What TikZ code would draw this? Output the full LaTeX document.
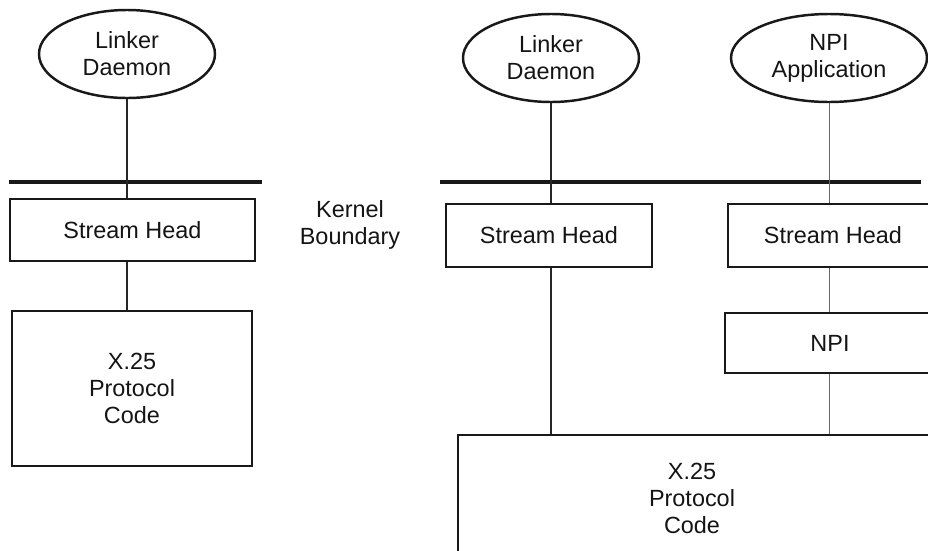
\documentclass[tikz,border=0pt]{standalone}
\usepackage{fontspec}
\setmainfont{Liberation Sans}
\usetikzlibrary{shapes.geometric}
\begin{document}
\begin{tikzpicture}[x=0.03cm,y=-0.03cm,
  lbl/.style={font=\fontsize{20}{23}\selectfont, text=black!92, align=center},
  proc/.style={ellipse, draw=black!90, line width=2.1pt, inner sep=0pt, lbl},
  box/.style={rectangle, draw=black!90, line width=2.1pt, inner sep=0pt, lbl},
  bound/.style={draw=black!90, line width=2.6pt},
  conn/.style={draw=black!85, line width=1pt},
  connl/.style={draw=black!60, line width=0.8pt}]
\useasboundingbox (0,0) rectangle (928,550);
\clip (0,0) rectangle (928,550);
% left stack
\node[proc, minimum width=176*0.03cm, minimum height=88*0.03cm] (ld1) at (127,54) {Linker\\Daemon};
\coordinate (lb1) at (9,182);
\coordinate (lb2) at (262,182);
\draw[bound] (lb1) -- (lb2);
\node[box, minimum width=245*0.03cm, minimum height=62*0.03cm] (sh1) at (132.5,230) {Stream Head};
\node[box, minimum width=240*0.03cm, minimum height=155*0.03cm] (x1) at (132,388.5) {X.25\\Protocol\\Code};
\draw[conn] (ld1.south) -- (ld1.south |- sh1.north);
\draw[conn] (ld1.south |- sh1.south) -- (ld1.south |- x1.north);
% kernel boundary label
\node[lbl] (kb) at (350,225) {Kernel\\Boundary};
% right stack
\node[proc, minimum width=176*0.03cm, minimum height=88*0.03cm] (ld2) at (551,58) {Linker\\Daemon};
\node[proc, minimum width=196*0.03cm, minimum height=88*0.03cm] (npa) at (829,58) {NPI\\Application};
\coordinate (rb1) at (440,182);
\coordinate (rb2) at (921,182);
\draw[bound] (rb1) -- (rb2);
\node[box, minimum width=206*0.03cm, minimum height=63*0.03cm] (sh2) at (549,235.5) {Stream Head};
\node[box, minimum width=210*0.03cm, minimum height=63*0.03cm] (sh3) at (833,235.5) {Stream Head};
\node[box, minimum width=210*0.03cm, minimum height=60*0.03cm] (npi) at (830,343) {NPI};
\node[box, minimum width=520*0.03cm, minimum height=200*0.03cm] (x2) at (718,535) {};
\node[lbl] (x2t) at (692,498) {X.25\\Protocol\\Code};
\draw[conn] (ld2.south) -- (ld2.south |- sh2.north);
\draw[conn] (ld2.south |- sh2.south) -- (ld2.south |- x2.north);
\draw[connl] (npa.south) -- (npa.south |- sh3.north);
\draw[connl] (npa.south |- sh3.south) -- (npa.south |- npi.north);
\draw[connl] (npa.south |- npi.south) -- (npa.south |- x2.north);
\end{tikzpicture}
\end{document}
